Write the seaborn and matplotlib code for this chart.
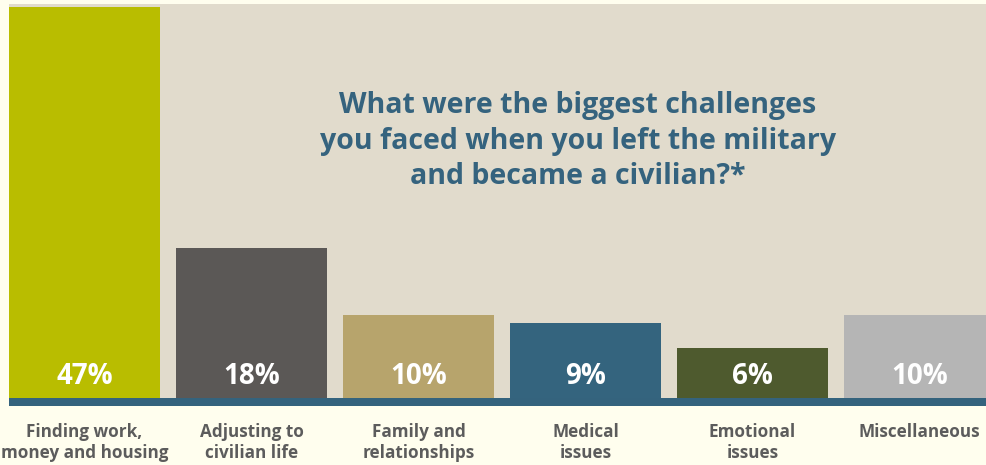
import matplotlib
matplotlib.use("Agg")
import matplotlib.pyplot as plt
import seaborn as sns
import pandas as pd

categories = ["Finding work,\nmoney and housing", "Adjusting to\ncivilian life",
              "Family and\nrelationships", "Medical\nissues", "Emotional\nissues",
              "Miscellaneous"]
values = [47, 18, 10, 9, 6, 10]
value_labels = ["47%", "18%", "10%", "9%", "6%", "10%"]
colors = ["#b9bd00", "#5b5856", "#b7a46c", "#34647e", "#4e5a2e", "#b5b5b5"]
title = "What were the biggest challenges\nyou faced when you left the military\nand became a civilian?*"

CREAM = "#fffeee"
BEIGE = "#e1dbcc"
BLUE = "#34637d"
GRAY = "#5c5c5c"

sns.set_style("white")
plt.rcParams['font.family'] = ['Open Sans', 'DejaVu Sans']

fig = plt.figure(figsize=(9.87, 4.65), dpi=100, facecolor=CREAM)
ax = fig.add_axes([9/987, 59/465, 978/987, 402/465])
ax.set_facecolor(BEIGE)

df = pd.DataFrame({"cat": categories, "val": values})
sns.barplot(data=df, x="cat", y="val", hue="cat", palette=colors, legend=False,
            width=0.904, ax=ax, saturation=1, edgecolor="none", linewidth=0)

px = 391/47.0  # pixels per unit
ax.set_ylim(-8/px, 394/px)
ax.set_xlim(-0.452, -0.452 + 978/167)
ax.axhspan(-8/px, 0, color=BLUE, zorder=5, lw=0)

for sp in ax.spines.values():
    sp.set_visible(False)
ax.set_xticks([])
ax.set_yticks([])
ax.set_xlabel("")
ax.set_ylabel("")

for i, lab in enumerate(value_labels):
    ax.text(i, 22/px, lab, ha="center", va="center", color="white",
            fontsize=20, fontweight="bold", zorder=6)

for i, cat in enumerate(categories):
    ax.text(i, -25/px, cat, ha="center", va="top", color=GRAY,
            fontsize=12.3, fontweight="bold", linespacing=1.22, clip_on=False)

fig.text(578/987, 1 - 141/465, title, ha="center", va="center", color="#35637e",
         fontsize=20.5, fontweight="bold", linespacing=1.3)

fig.savefig("out.png", dpi=100, facecolor=CREAM)
